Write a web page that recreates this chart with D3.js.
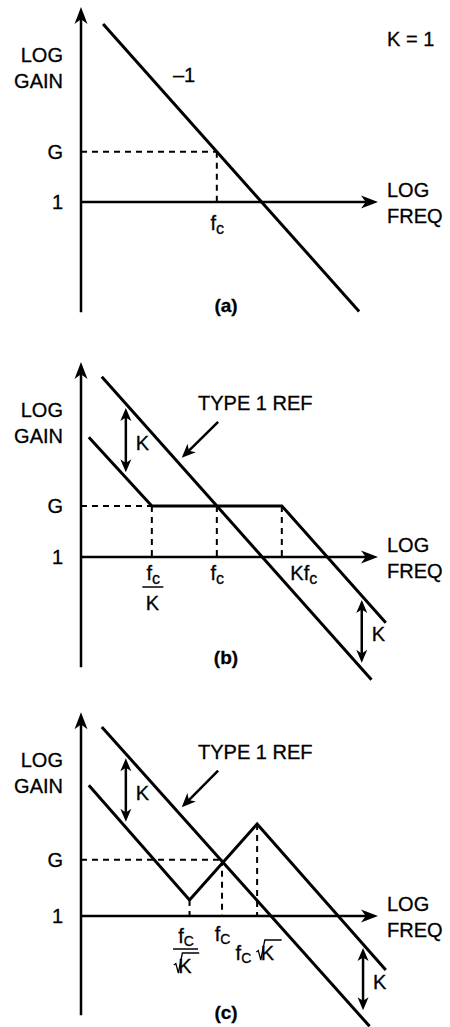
<!DOCTYPE html>
<html>
<head>
<meta charset="utf-8">
<script src="https://cdn.jsdelivr.net/npm/d3@7"></script>
<style>
  body { margin: 0; background: #fff; }
  svg text { font-family: "Liberation Sans", Arial, Helvetica, sans-serif; fill: #000; stroke: #000; stroke-width: 0.3; }
</style>
</head>
<body>
<svg id="chart" width="450" height="1027"></svg>
<script>
// all values in log units: x = log f (0 at fc), y = log gain (0 = unity gain)
const xDomain = [-2.09, 2.48];

// panel (a)
const yDomainA = [-1.51, 2.67];
const refA = [[-1.75, 2.44], [2.19, -1.50]];
const gainA = 0.69;
const dropsA = [[0.0, 0.69]];
const ticksA = ["fc"];

// panel (b)
const yDomainB = [-1.51, 2.67];
const refB = [[-1.77, 2.47], [2.38, -1.68]];
const lowB = [[-1.97, 1.64], [-1.0, 0.70], [1.0, 0.70], [2.60, -0.90]];
const gainB = 0.70;
const dropsB = [[-1.0, 0.70], [0.0, 0.70], [1.0, 0.70]];
const ticksB = ["fc/K", "fc", "Kfc"];
const kArrowsB = [[-1.40, 2.04, 1.16], [2.23, -0.59, -1.45]];
const pointerB = [[0.02, 1.85], [-0.54, 1.36]];

// panel (c)
const yDomainC = [-1.36, 2.79];
const refC = [[-1.77, 2.59], [2.35, -1.51]];
const lowC = [[-1.97, 1.79], [-0.42, 0.22], [0.62, 1.26], [2.60, -0.74]];
const gainC = 0.77;
const dropsC = [[-0.42, 0.22], [0.08, 0.77], [0.62, 1.26]];
const ticksC = ["fc/rootK", "fc", "fc*rootK"];
const kArrowsC = [[-1.40, 2.16, 1.29], [2.25, -0.44, -1.29]];
const pointerC = [[0.02, 1.99], [-0.54, 1.49]];

const panels = [
  { name: "(a)", yDomain: yDomainA, ref: refA, low: null, gain: gainA, drops: dropsA, ticks: ticksA,
    kArrows: [], pointer: null, axisY: 202, sub: "c", subSize: 16, subDy: 4, fcDy: 28, capY: 312 },
  { name: "(b)", yDomain: yDomainB, ref: refB, low: lowB, gain: gainB, drops: dropsB, ticks: ticksB,
    kArrows: kArrowsB, pointer: pointerB, axisY: 557, sub: "c", subSize: 16, subDy: 4, fcDy: 23, capY: 664 },
  { name: "(c)", yDomain: yDomainC, ref: refC, low: lowC, gain: gainC, drops: dropsC, ticks: ticksC,
    kArrows: kArrowsC, pointer: pointerC, axisY: 916, sub: "C", subSize: 14, subDy: 3, fcDy: 25, capY: 1019 }
];

const svg = d3.select("#chart");
const x = d3.scaleLinear().domain(xDomain).range([81, 378]);
const PX_PER_DECADE_Y = 73;

// filled arrow head with a notched back, tip at (px, py)
function arrowHead(g, px, py, deg, len, half) {
  g.append("path")
    .attr("d", `M0,0L${-len},${-half}L${-len * 0.72},0L${-len},${half}Z`)
    .attr("transform", `translate(${px},${py}) rotate(${deg})`)
    .attr("fill", "#000");
}

function arrowLine(g, x1, y1, x2, y2, len, half, width, both) {
  const ang = Math.atan2(y2 - y1, x2 - x1);
  const deg = ang * 180 / Math.PI;
  const back = len * 0.6;
  let sx = x1, sy = y1;
  if (both) {
    sx = x1 + Math.cos(ang) * back;
    sy = y1 + Math.sin(ang) * back;
    arrowHead(g, x1, y1, deg + 180, len, half);
  }
  g.append("line")
    .attr("x1", sx).attr("y1", sy)
    .attr("x2", x2 - Math.cos(ang) * back).attr("y2", y2 - Math.sin(ang) * back)
    .attr("stroke", "#000").attr("stroke-width", width);
  arrowHead(g, x2, y2, deg, len, half);
}

function fcText(g, px, py, anchor, prefix, p) {
  const t = g.append("text")
    .attr("x", px).attr("y", py)
    .attr("text-anchor", anchor)
    .attr("font-size", 20);
  if (prefix) t.append("tspan").text(prefix);
  t.append("tspan").text("f");
  t.append("tspan").attr("font-size", p.subSize).attr("dy", p.subDy).text(p.sub);
  return t;
}

// hand drawn radical over K, returns total width
function sqrtK(g, px, py) {
  const k = g.append("text").attr("x", px + 11).attr("y", py).attr("font-size", 20).text("K");
  const kw = k.node().getComputedTextLength();
  g.append("path")
    .attr("d", `M${px},${py - 8}L${px + 2},${py - 9.5}L${px + 4.5},${py}L${px + 8.5},${py - 20}L${px + 12 + kw},${py - 20}`)
    .attr("fill", "none").attr("stroke", "#000").attr("stroke-width", 1.3)
    .attr("stroke-linejoin", "miter");
  return 11 + kw;
}

const line = d3.line();

panels.forEach(p => {
  const g = svg.append("g");
  const y = d3.scaleLinear().domain([0, 1]).range([p.axisY, p.axisY - PX_PER_DECADE_Y]);
  const x0 = x(xDomain[0]);
  const yTop = y(p.yDomain[1]);

  // dashed guides: G level and drops to the frequency axis
  const gEnd = p.drops.filter(d => Math.abs(d[1] - p.gain) < 0.02)[0][0];
  g.append("line")
    .attr("x1", x0).attr("x2", x(gEnd))
    .attr("y1", y(p.gain)).attr("y2", y(p.gain))
    .attr("stroke", "#000").attr("stroke-width", 2).attr("stroke-dasharray", "6,5");
  g.selectAll(".drop")
    .data(p.drops)
    .join("line")
    .attr("class", "drop")
    .attr("x1", d => x(d[0])).attr("x2", d => x(d[0]))
    .attr("y1", d => y(d[1])).attr("y2", y(0))
    .attr("stroke", "#000").attr("stroke-width", 2).attr("stroke-dasharray", "6,5");

  // axes with arrow heads
  arrowLine(g, x0, y(p.yDomain[0]), x0, yTop, 17, 6.5, 2.5, false);
  arrowLine(g, x0, y(0), x(xDomain[1]), y(0), 17, 6.5, 2.5, false);

  // y tick labels 1 and G
  const yAxis = g.append("g")
    .attr("transform", `translate(${x0},0)`)
    .call(d3.axisLeft(y).tickValues([0, p.gain]).tickSize(0).tickPadding(18)
      .tickFormat(d => d === 0 ? "1" : "G"));
  yAxis.select(".domain").remove();
  yAxis.attr("font-family", null).attr("font-size", 20);
  yAxis.selectAll("text").attr("fill", "#000");

  // x tick labels
  const xAxis = g.append("g")
    .attr("transform", `translate(0,${y(0)})`)
    .call(d3.axisBottom(x).tickValues(p.drops.map(d => d[0])).tickSize(0).tickFormat(""));
  xAxis.select(".domain").remove();
  xAxis.selectAll("text").remove();
  xAxis.attr("font-family", null);
  xAxis.selectAll(".tick").each(function (d, i) {
    const t = d3.select(this);
    const kind = p.ticks[i];
    if (kind === "fc") {
      fcText(t, 0, p.fcDy, "middle", "", p);
    } else if (kind === "Kfc") {
      fcText(t, 8, p.fcDy, "start", "K", p);
    } else if (kind === "fc/K") {
      fcText(t, 1, 23, "middle", "", p);
      t.append("line").attr("x1", -10).attr("x2", 11).attr("y1", 30).attr("y2", 30)
        .attr("stroke", "#000").attr("stroke-width", 1.5);
      t.append("text").attr("x", 0).attr("y", 53).attr("text-anchor", "middle")
        .attr("font-size", 20).text("K");
    } else if (kind === "fc/rootK") {
      const cx = -4;
      fcText(t, cx, 27, "middle", "", p);
      const tmp = t.append("g");
      const w = sqrtK(tmp, 0, 0);
      tmp.remove();
      sqrtK(t, cx - w / 2, 57);
      t.append("line").attr("x1", cx - 13).attr("x2", cx + 12).attr("y1", 33).attr("y2", 33)
        .attr("stroke", "#000").attr("stroke-width", 1.5);
    } else if (kind === "fc*rootK") {
      const f = fcText(t, -22, 44, "start", "", p);
      const w = f.node().getComputedTextLength();
      sqrtK(t, -22 + w + 5, 44);
    }
  });

  // response lines
  g.append("path")
    .attr("d", line(p.ref.map(d => [x(d[0]), y(d[1])])))
    .attr("fill", "none").attr("stroke", "#000").attr("stroke-width", 3);
  if (p.low) {
    g.append("path")
      .attr("d", line(p.low.map(d => [x(d[0]), y(d[1])])))
      .attr("fill", "none").attr("stroke", "#000").attr("stroke-width", 3)
      .attr("stroke-linejoin", "miter");
  }

  // K spacing arrows
  p.kArrows.forEach(k => {
    const ax = x(k[0]), a1 = y(k[1]), a2 = y(k[2]);
    arrowLine(g, ax, a1, ax, a2, 13, 5.5, 2.5, true);
    g.append("text")
      .attr("x", ax + 10).attr("y", (a1 + a2) / 2 + 10)
      .attr("font-size", 20).text("K");
  });

  // TYPE 1 REF pointer
  if (p.pointer) {
    const [s, e] = p.pointer;
    arrowLine(g, x(s[0]), y(s[1]), x(e[0]), y(e[1]), 14, 6, 2.5, false);
    g.append("text")
      .attr("x", 198).attr("y", y(s[1]) - 12)
      .attr("font-size", 20).text("TYPE 1 REF");
  }

  // axis titles
  g.append("text").attr("x", 63).attr("y", yTop + 55).attr("text-anchor", "end")
    .attr("font-size", 20).text("LOG");
  g.append("text").attr("x", 63).attr("y", yTop + 81).attr("text-anchor", "end")
    .attr("font-size", 20).text("GAIN");
  g.append("text").attr("x", 387).attr("y", y(0) - 5).attr("font-size", 20).text("LOG");
  g.append("text").attr("x", 387).attr("y", y(0) + 21).attr("font-size", 20).text("FREQ");

  // caption
  g.append("text").attr("x", 226).attr("y", p.capY).attr("text-anchor", "middle")
    .attr("font-size", 19).attr("font-weight", "bold").text(p.name);
});

// panel (a) extras
svg.append("text").attr("x", 387).attr("y", 46).attr("font-size", 20).text("K = 1");
svg.append("text").attr("x", 173).attr("y", 82).attr("font-size", 20).text("\u20131");
</script>
</body>
</html>
